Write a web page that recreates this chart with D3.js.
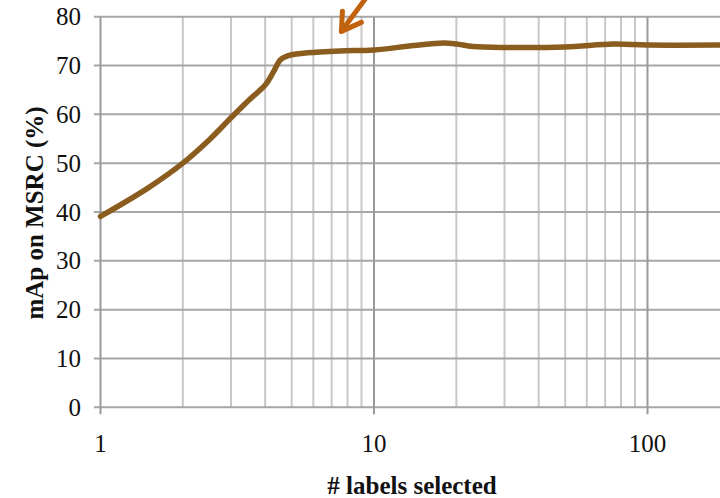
<!DOCTYPE html>
<html><head><meta charset="utf-8">
<script src="https://cdn.jsdelivr.net/npm/d3@7"></script>
<style>
html,body{margin:0;padding:0;background:#fff;}
svg{display:block;}
</style></head>
<body>
<svg id="chart" width="720" height="498"></svg>
<script>
// Data
const labelsSelected = [1, 1.5, 2, 2.5, 3, 3.5, 4, 4.3, 4.55, 4.9, 5.7, 7.5, 10, 14, 18, 20, 23, 30, 50, 75, 100, 200];
const mapValues =      [39.1, 45, 50, 54.8, 59.3, 63, 66, 68.8, 71.2, 72.1, 72.6, 73.0, 73.2, 74.1, 74.6, 74.4, 73.9, 73.7, 73.8, 74.4, 74.2, 74.2];
const yTicks = [0, 10, 20, 30, 40, 50, 60, 70, 80];
const xMajorTicks = [1, 10, 100];
const xTitle = "# labels selected";
const yTitle = "mAp on MSRC (%)";
const arrowTip = {x: 7.6, y: 77};

const svg = d3.select("#chart");
const W = 720, H = 498;
const x0 = 100.5, decade = 273.5;
const x = d3.scaleLog().domain([1, 1000]).range([x0, x0 + 3 * decade]);
const y = d3.scaleLinear().domain([0, 80]).range([407.3, 16.7]);

const serif = "'Liberation Serif', 'DejaVu Serif', serif";

// minor gridlines
const minor = [];
for (let d = 1; d < 1000; d *= 10) for (let k = 2; k <= 9; k++) minor.push(d * k);
svg.append("g").selectAll("line").data(minor).join("line")
  .attr("x1", d => x(d)).attr("x2", d => x(d))
  .attr("y1", y(80)).attr("y2", y(0))
  .attr("stroke", "#c8c8c8").attr("stroke-width", 2);

// horizontal gridlines
svg.append("g").selectAll("line").data(yTicks).join("line")
  .attr("x1", 94).attr("x2", W)
  .attr("y1", d => y(d)).attr("y2", d => y(d))
  .attr("stroke", "#a6a6a6").attr("stroke-width", 2);

// major vertical
svg.append("g").selectAll("line").data(xMajorTicks).join("line")
  .attr("x1", d => x(d)).attr("x2", d => x(d))
  .attr("y1", y(80)).attr("y2", y(0) + 7)
  .attr("stroke", "#9a9a9a").attr("stroke-width", 2);

// y tick labels
svg.append("g").selectAll("text").data(yTicks).join("text")
  .attr("x", 81).attr("y", d => y(d) + 8.5)
  .attr("text-anchor", "end")
  .attr("font-family", serif).attr("font-size", 25).attr("fill", "#111")
  .text(d => d);

// x tick labels
svg.append("g").selectAll("text").data(xMajorTicks).join("text")
  .attr("x", d => x(d)).attr("y", 452)
  .attr("text-anchor", "middle")
  .attr("font-family", serif).attr("font-size", 25).attr("fill", "#111")
  .text(d => d);

// titles
svg.append("text").attr("x", 412).attr("y", 494)
  .attr("text-anchor", "middle").attr("font-family", serif)
  .attr("font-size", 25).attr("font-weight", "bold").attr("fill", "#111")
  .text(xTitle);
svg.append("text").attr("transform", "translate(43,213) rotate(-90)")
  .attr("text-anchor", "middle").attr("font-family", serif)
  .attr("font-size", 25).attr("font-weight", "bold").attr("fill", "#111")
  .text(yTitle);

// line
const pts = labelsSelected.map((v, i) => [x(v), y(mapValues[i])]);
svg.append("path")
  .attr("d", d3.line().curve(d3.curveCatmullRom.alpha(0.5))(pts))
  .attr("fill", "none").attr("stroke", "#8a5d1f").attr("stroke-width", 5.5)
  .attr("stroke-linecap", "round").attr("stroke-linejoin", "round");

// arrow annotation
const tx = x(arrowTip.x), ty = y(arrowTip.y);
const arrowG = svg.append("g").attr("stroke", "#c0620e").attr("stroke-width", 5)
  .attr("fill", "none").attr("stroke-linecap", "round").attr("stroke-linejoin", "round");
arrowG.append("line").attr("x1", tx).attr("y1", ty).attr("x2", tx + 28).attr("y2", ty - 38);
arrowG.append("path").attr("d", `M${tx + 1},${ty - 20} L${tx},${ty} L${tx + 20},${ty - 9}`);
</script>
</body></html>
